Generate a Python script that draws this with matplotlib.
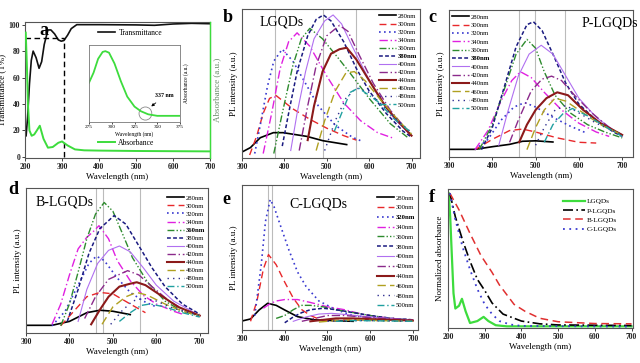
import matplotlib
matplotlib.use('Agg')
import matplotlib.pyplot as plt
from matplotlib.patches import Ellipse
from matplotlib.lines import Line2D

plt.rcParams['font.family'] = ['Liberation Serif', 'DejaVu Serif']

# ---------- data ----------
excitation = ['280nm', '300nm', '320nm', '340nm', '360nm', '380nm',
              '400nm', '420nm', '440nm', '460nm', '480nm', '500nm']
colors = ['#000000', '#e8282b', '#3a3ad0', '#e020e0', '#2e8b2e', '#1a1a80',
          '#b070f0', '#8b2a8b', '#8b1a1a', '#b0a020', '#303090', '#20a0a0']
styles = ['-', (0, (5, 3)), (0, (1, 2)), (0, (6, 2, 1, 2)), (0, (5, 1.5, 1, 1.5, 1, 1.5)),
          (0, (2.5, 1.5)), '-', (0, (6, 2, 1, 2)), '-', (0, (6, 3)), (0, (1, 3)), (0, (5, 2, 1, 2))]
widths = [1.2, 1.0, 1.2, 1.0, 1.0, 1.1, 0.8, 1.0, 1.5, 1.0, 1.0, 1.0]

# panel a
a_wl_T = [203, 207, 212, 217, 222, 230, 238, 245, 252, 262, 270, 280, 290, 298, 305, 315, 325, 340, 400, 500, 550, 600, 650, 700]
a_T = [16, 30, 55, 73, 80, 75, 67, 72, 85, 96, 96, 93, 88.5, 87.5, 88, 92, 97, 100, 100, 99.8, 99.5, 100.5, 101, 100.7]
a_wl_A = [202, 205, 208, 212, 218, 225, 232, 240, 250, 262, 275, 290, 300, 315, 335, 360, 400, 500, 700]
a_A = [94, 70, 40, 20, 16, 17, 20, 23.6, 13.7, 7, 7.5, 10.7, 11.7, 8.7, 5.7, 5, 4.8, 4.5, 4.2]
a_cut_wl = 305
a_cut_T = 90
inset_wl = [275, 280, 285, 290, 293, 297, 303, 310, 317, 325, 332, 340, 350, 360, 375]
inset_A = [0.51, 0.64, 0.82, 0.91, 0.92, 0.90, 0.76, 0.53, 0.33, 0.20, 0.14, 0.10, 0.08, 0.08, 0.08]
inset_mark = 337

# panel b  LGQDs
b_x = [
    [300, 320, 343, 374, 397, 453, 491, 547],
    [318, 335, 350, 365, 380, 420, 460, 500, 540, 570],
    [330, 345, 360, 375, 395, 420, 450, 480, 520, 560, 585],
    [350, 370, 390, 410, 430, 460, 500, 540, 580, 620, 660],
    [375, 395, 420, 440, 460, 490, 530, 555, 600, 650, 690],
    [395, 410, 430, 455, 475, 492, 510, 540, 570, 600, 640, 680, 700],
    [415, 430, 450, 470, 495, 515, 535, 560, 590, 620, 660, 700],
    [435, 455, 475, 500, 530, 550, 575, 610, 650, 700],
    [455, 470, 490, 510, 530, 547, 570, 600, 640, 670, 700],
    [475, 495, 520, 545, 565, 590, 630, 670, 700],
    [495, 520, 545, 570, 600, 640, 680, 700],
    [518, 535, 555, 575, 620, 660, 700],
]
b_y = [
    [4, 7, 13.6, 17, 17, 14.5, 11.6, 9],
    [2, 15, 30, 40, 42, 33, 26, 20, 15, 12],
    [3, 25, 48, 65, 73, 65, 50, 35, 22, 14, 11],
    [3, 30, 60, 78, 84, 75, 55, 37, 25, 17, 13],
    [3, 30, 62, 80, 87, 80, 66, 57, 40, 23, 14],
    [8, 30, 58, 82, 93, 96, 92, 78, 60, 45, 30, 18, 14],
    [5, 30, 58, 80, 92, 96, 90, 75, 58, 42, 26, 15],
    [5, 35, 62, 82, 89, 85, 70, 50, 32, 15],
    [12, 35, 58, 70, 73, 74, 66, 52, 34, 24, 15],
    [5, 25, 45, 57, 58, 52, 38, 25, 16],
    [5, 25, 40, 47, 44, 33, 22, 17],
    [18, 30, 44, 47, 38, 26, 17],
]

# panel c  P-LGQDs
c_x = [
    [300, 360, 400, 440, 470, 500, 540],
    [360, 400, 440, 470, 500, 550, 600, 640],
    [360, 390, 420, 450, 475, 500, 540, 580, 620],
    [360, 390, 420, 445, 465, 490, 520, 560, 600, 640, 670],
    [370, 400, 430, 455, 480, 500, 520, 545, 580, 620, 660, 700],
    [375, 400, 430, 455, 480, 495, 515, 540, 570, 600, 640, 680, 700],
    [415, 435, 460, 485, 513, 540, 570, 600, 640, 700],
    [440, 460, 490, 515, 537, 560, 590, 630, 670, 700],
    [462, 480, 500, 525, 550, 575, 610, 650, 700],
    [480, 500, 520, 545, 570, 610, 650, 700],
    [500, 520, 545, 570, 600, 640, 700],
    [520, 540, 565, 585, 620, 660, 700],
]
c_y = [
    [5.2, 5.2, 7, 8.6, 10.7, 11, 10.2],
    [5, 12, 18, 19, 17, 13, 10, 9.5],
    [5, 12, 25, 34, 37, 34, 27, 21, 16],
    [5, 18, 38, 52, 58, 54, 44, 32, 23, 17, 14],
    [5, 22, 48, 70, 80, 74, 58, 42, 30, 22, 17, 13],
    [5, 20, 50, 75, 90, 92, 86, 70, 50, 36, 25, 17, 14],
    [8, 30, 55, 70, 76, 70, 55, 40, 27, 14],
    [10, 25, 45, 53, 55, 52, 42, 30, 20, 15],
    [10, 22, 32, 40, 44, 42, 32, 23, 15],
    [5, 20, 32, 40, 38, 30, 22, 15],
    [8, 20, 32, 35, 30, 23, 15],
    [10, 22, 30, 33, 28, 21, 14],
]

# panel d  B-LGQDs
d_x = [
    [300, 360, 400, 440, 470, 500, 540],
    [380, 410, 440, 470, 500, 540, 575],
    [360, 390, 420, 445, 462, 480, 510, 540, 570, 600],
    [360, 380, 400, 420, 440, 455, 468, 490, 510, 540, 570, 600, 640, 660],
    [380, 400, 420, 440, 460, 480, 500, 520, 545, 580, 620, 660, 695],
    [395, 420, 445, 470, 503, 530, 560, 590, 620, 660, 700],
    [420, 440, 465, 490, 515, 540, 570, 600, 640, 700],
    [435, 460, 490, 534, 560, 590, 630, 670, 700],
    [450, 470, 490, 515, 540, 555, 575, 610, 650, 700],
    [475, 500, 530, 555, 580, 620, 660, 700],
    [495, 520, 545, 570, 600, 640, 700],
    [515, 540, 565, 585, 620, 660, 700],
]
d_y = [
    [5.3, 5.3, 8, 14, 15.7, 15, 12.7],
    [5, 15, 25, 28, 27, 20, 14],
    [5, 15, 33, 48, 53, 50, 38, 28, 22, 18],
    [6, 20, 40, 58, 66, 70, 74, 65, 50, 36, 26, 20, 15, 13],
    [5, 20, 42, 65, 82, 90, 84, 70, 52, 35, 22, 15, 12],
    [8, 30, 55, 72, 81, 75, 60, 45, 32, 20, 13],
    [8, 30, 48, 57, 60, 56, 45, 33, 22, 12],
    [10, 25, 37, 43, 40, 32, 22, 15, 12],
    [6, 16, 25, 32, 34, 35, 33, 26, 18, 12],
    [6, 18, 25, 28, 26, 20, 15, 12],
    [6, 15, 22, 24, 22, 17, 12],
    [8, 14, 19, 20, 18, 14, 11],
]

# panel e  C-LGQDs
e_x = [
    [300, 320, 340, 360, 380, 400, 430, 470, 520, 560],
    [320, 335, 350, 362, 380, 400, 420, 440, 460, 480, 500, 560, 620],
    [330, 345, 355, 366, 375, 390, 410, 430, 450, 480, 520, 560, 620, 700],
    [350, 365, 380, 400, 430, 460, 500, 540, 580, 620, 660],
    [380, 400, 420, 440, 460, 490, 520, 560, 600, 650, 700],
    [400, 420, 440, 460, 490, 520, 560, 600, 650, 700],
    [420, 450, 480, 510, 550, 600, 650, 700],
    [440, 470, 500, 540, 580, 630, 700],
    [460, 490, 520, 560, 600, 650, 700],
    [480, 520, 560, 620, 700],
    [500, 540, 600, 700],
    [520, 560, 620, 700],
]
e_y = [
    [6.2, 7.6, 13.8, 18.4, 17, 13.8, 9.2, 7, 6.4, 6],
    [6, 20, 42, 52, 45, 33, 22, 14, 10, 7.5, 6.5, 7, 6.5],
    [10, 45, 75, 90, 85, 72, 55, 40, 30, 20, 14, 10, 8, 7],
    [15, 18, 20, 21, 21, 19, 16, 14, 11, 9, 8],
    [8, 10, 14, 17, 17, 16, 14, 12, 10, 8, 7],
    [5, 9, 12, 14, 15, 14, 12, 10, 8, 7],
    [6, 9, 11, 11.5, 10.5, 9, 8, 7],
    [6, 8, 10, 10, 9, 8, 7],
    [6, 7, 8, 8, 7.5, 7, 6.5],
    [5.5, 6.5, 7, 6.5, 6],
    [6, 6.5, 6.5, 6],
    [6, 6.5, 6.3, 6],
]

# panel f  normalized absorbance
f_names = ['LGQDs', 'P-LGQDs', 'B-LGQDs', 'C-LGQDs']
f_x = [
    [202, 206, 210, 215, 220, 230, 238, 248, 260, 280, 297, 310, 330, 360, 400, 700],
    [205, 220, 240, 260, 280, 300, 320, 350, 400, 450, 500, 700],
    [205, 230, 260, 290, 320, 340, 380, 410, 450, 500, 600, 700],
    [205, 220, 240, 260, 280, 300, 320, 340, 370, 400, 700],
]
f_y = [
    [97, 80, 55, 25, 14, 16, 21, 12, 3.6, 5, 8, 5, 2, 1.2, 1.2, 1.2],
    [97, 80, 63, 48, 35, 27, 18, 10, 5, 3, 2.2, 1.8],
    [97, 85, 68, 52, 40, 31, 17, 12, 7, 4.5, 3.2, 3],
    [97, 78, 58, 42, 28, 17, 10, 5, 2.5, 1.5, 1],
]
f_colors = ['#3ddc3d', '#000000', '#e03030', '#3a3ad0']
f_styles = ['-', (0, (6, 2, 1, 2)), (0, (5, 3)), (0, (1, 2.5))]
f_widths = [1.6, 1.2, 1.1, 1.3]

green = '#3ddc3d'

W, H = 640, 363
fig = plt.figure(figsize=(6.4, 3.63), dpi=100)


def box(l, r, t, b):
    return [l / W, (H - b) / H, (r - l) / W, (b - t) / H]


def style_axes(ax, xt):
    for s in ax.spines.values():
        s.set_color('#555555')
        s.set_linewidth(0.8)
    ax.set_xticks(xt)
    ax.tick_params(axis='both', labelsize=5.5, length=2, width=0.6, pad=1.5, colors='#222222')
    for lab in ax.get_xticklabels() + ax.get_yticklabels():
        lab.set_fontweight('bold')
    ax.set_xlabel('Wavelength (nm)', fontsize=6.5, labelpad=1.5)


def pl_panel(ax, xs, ys, bold, name, name_pos, vlines, xmax, leg_kw):
    for v in vlines:
        ax.axvline(v, color='#bbbbbb', lw=0.8, zorder=0)
    for i in range(len(xs)):
        ax.plot(xs[i], ys[i], color=colors[i], ls=styles[i], lw=widths[i], label=excitation[i])
    ax.set_xlim(300, xmax)
    ax.set_ylim(0, 100)
    ax.set_yticks([])
    style_axes(ax, [300, 400, 500, 600, 700])
    ax.set_ylabel('PL intensity (a.u.)', fontsize=6.5, labelpad=3)
    ax.text(name_pos[0], name_pos[1], name, transform=ax.transAxes, fontsize=10, va='center')
    leg = ax.legend(frameon=False, prop={'size': 4.8}, handlelength=2.6, handletextpad=0.3,
                    borderaxespad=0.2, borderpad=0.2, **leg_kw)
    leg.get_texts()[bold].set_fontweight('bold')


# ---------- panel a ----------
ax_a = fig.add_axes(box(25, 210, 22, 158))
ax_a.plot(a_wl_T, a_T, color='#111111', lw=1.2)
ax_a.hlines(a_cut_T, 200, a_cut_wl, colors='k', linestyles=(0, (4, 2.5)), lw=1.0)
ax_a.vlines(a_cut_wl, 0, a_cut_T, colors='k', linestyles=(0, (4, 2.5)), lw=1.0)
ax_a.set_xlim(200, 700)
ax_a.set_ylim(-0.8, 102)
ax_a.set_yticks([0, 20, 40, 60, 80, 100])
style_axes(ax_a, [200, 300, 400, 500, 600, 700])
ax_a.set_ylabel('Transmittance (T%)', fontsize=6.5, labelpad=1.5)
ax_a2 = ax_a.twinx()
ax_a2.plot(a_wl_A, a_A, color=green, lw=1.4)
ax_a2.set_ylim(-0.8, 102)
ax_a2.set_yticks([])
ax_a2.spines['right'].set_color(green)
ax_a2.spines['right'].set_linewidth(1.0)
for s in ['left', 'top', 'bottom']:
    ax_a2.spines[s].set_visible(False)
ax_a2.set_ylabel('Absorbance (a.u.)', fontsize=6.5, color='#6a8a6a', labelpad=2)
ax_a2.text(0.075, 0.935, 'a', transform=ax_a.transAxes, fontsize=13, fontweight='bold', va='center')
l1 = ax_a.legend([Line2D([], [], color='#111111', lw=1.2)], ['Transmittance'], frameon=False,
                 prop={'size': 5.5}, handlelength=2.2, handletextpad=0.4, loc='center left',
                 bbox_to_anchor=(0.36, 0.92))
ax_a.add_artist(l1)
ax_a.legend([Line2D([], [], color=green, lw=1.4)], ['Absorbance'], frameon=False,
            prop={'size': 5.5}, handlelength=2.2, handletextpad=0.4, loc='center left',
            bbox_to_anchor=(0.36, 0.11))

ax_in = fig.add_axes(box(89, 180, 45, 122))
ax_in.plot(inset_wl, inset_A, color=green, lw=1.3)
ax_in.set_xlim(275, 375)
ax_in.set_ylim(0, 1)
ax_in.set_xticks([275, 300, 325, 350, 375])
ax_in.set_yticks([])
for s in ax_in.spines.values():
    s.set_color('#777777')
    s.set_linewidth(0.6)
ax_in.tick_params(labelsize=3.8, length=1.5, width=0.5, pad=1)
ax_in.set_xlabel('Wavelength (nm)', fontsize=4, labelpad=1)
ax_in.yaxis.set_label_position('right')
ax_in.set_ylabel('Absorbance (a.u.)', fontsize=4, labelpad=2)
ax_in.add_patch(Ellipse((inset_mark, 0.11), 14, 0.17, fill=False, ec='#888888', lw=0.6))
ax_in.annotate('337 nm', xy=(inset_mark + 4, 0.18), xytext=(348, 0.32), fontsize=4.3, fontweight='bold',
               arrowprops=dict(arrowstyle='-|>', color='k', lw=0.6, mutation_scale=4))

# ---------- panels b-e ----------
ax_b = fig.add_axes(box(242, 420, 9, 158))
pl_panel(ax_b, b_x, b_y, 5, 'LGQDs', (0.1, 0.91), [378, 492, 570], 720,
         dict(loc='upper right', bbox_to_anchor=(1.0, 0.99), labelspacing=0.36))
fig.text(228 / W, 1 - 18 / H, 'b', fontsize=13, fontweight='bold', va='center', ha='center')

ax_c = fig.add_axes(box(449, 633, 10, 157))
pl_panel(ax_c, c_x, c_y, 5, 'P-LGQDs', (0.72, 0.91), [462, 498, 567], 725,
         dict(loc='upper left', bbox_to_anchor=(0.0, 0.99), labelspacing=0.4))
fig.text(432 / W, 1 - 17 / H, 'c', fontsize=13, fontweight='bold', va='center', ha='center')

ax_d = fig.add_axes(box(26, 208, 188, 333))
pl_panel(ax_d, d_x, d_y, 4, 'B-LGQDs', (0.05, 0.9), [462, 478, 563], 719,
         dict(loc='upper right', bbox_to_anchor=(1.0, 0.97), labelspacing=0.36))
fig.text(13 / W, 1 - 190 / H, 'd', fontsize=13, fontweight='bold', va='center', ha='center')

ax_e = fig.add_axes(box(242, 418, 185, 330))
pl_panel(ax_e, e_x, e_y, 2, 'C-LGQDs', (0.27, 0.87), [360, 370], 712,
         dict(loc='upper right', bbox_to_anchor=(1.0, 0.95), labelspacing=0.62))
fig.text(226 / W, 1 - 200 / H, 'e', fontsize=13, fontweight='bold', va='center', ha='center')

# ---------- panel f ----------
ax_f = fig.add_axes(box(448, 633, 189, 328))
for i in range(len(f_names)):
    ax_f.plot(f_x[i], f_y[i], color=f_colors[i], ls=f_styles[i], lw=f_widths[i], label=f_names[i])
ax_f.set_xlim(200, 704)
ax_f.set_ylim(0, 100)
ax_f.set_yticks([])
style_axes(ax_f, [200, 300, 400, 500, 600, 700])
ax_f.set_ylabel('Normalized absorbance', fontsize=6.5, labelpad=3)
ax_f.legend(frameon=False, prop={'size': 5.2}, handlelength=3.0, handletextpad=0.3,
            labelspacing=0.45, loc='upper right', bbox_to_anchor=(0.95, 0.98))
fig.text(432 / W, 1 - 198 / H, 'f', fontsize=13, fontweight='bold', va='center', ha='center')

fig.savefig('out.png', dpi=100)
